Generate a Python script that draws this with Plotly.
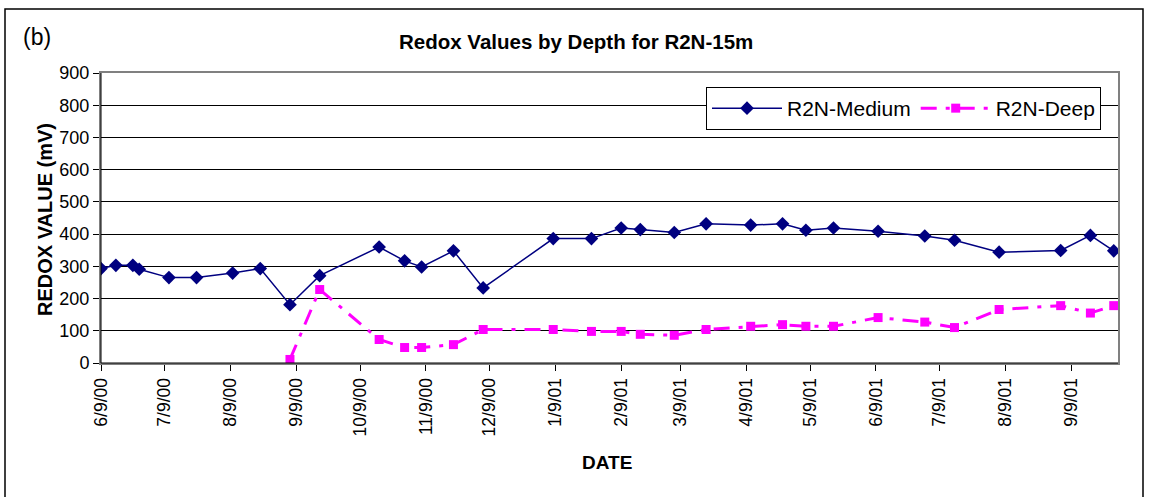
import plotly.graph_objects as go

medium_dates = ["2000-06-09", "2000-06-16", "2000-06-24", "2000-06-27", "2000-07-11", "2000-07-24",
                "2000-08-10", "2000-08-23", "2000-09-06", "2000-09-20", "2000-10-18", "2000-10-30",
                "2000-11-07", "2000-11-22", "2000-12-06", "2001-01-08", "2001-01-26", "2001-02-09",
                "2001-02-18", "2001-03-06", "2001-03-21", "2001-04-11", "2001-04-26", "2001-05-07",
                "2001-05-20", "2001-06-10", "2001-07-02", "2001-07-16", "2001-08-06", "2001-09-04",
                "2001-09-18", "2001-09-29"]
medium_values = [293, 303, 303, 291, 265, 265, 279, 293, 181, 271, 360, 317, 298, 348, 233, 386,
                 386, 419, 414, 405, 432, 428, 432, 412, 419, 409, 394, 381, 344, 349, 396, 348]

deep_dates = medium_dates[8:]
deep_values = [11, 228, 73, 48, 48, 57, 104, 104, 98, 98, 89, 86, 104, 114, 119, 114, 114, 141,
               127, 110, 166, 178, 155, 178]

tick_dates = ["2000-06-09", "2000-07-09", "2000-08-09", "2000-09-09", "2000-10-09", "2000-11-09",
              "2000-12-09", "2001-01-09", "2001-02-09", "2001-03-09", "2001-04-09", "2001-05-09",
              "2001-06-09", "2001-07-09", "2001-08-09", "2001-09-09"]
tick_labels = ["6/9/00", "7/9/00", "8/9/00", "9/9/00", "10/9/00", "11/9/00", "12/9/00", "1/9/01",
               "2/9/01", "3/9/01", "4/9/01", "5/9/01", "6/9/01", "7/9/01", "8/9/01", "9/9/01"]
y_ticks = [0, 100, 200, 300, 400, 500, 600, 700, 800, 900]

FONT = "Liberation Sans, Arial, sans-serif"

fig = go.Figure()
fig.add_trace(go.Scatter(
    x=medium_dates, y=medium_values, name="R2N-Medium", mode="lines+markers",
    line=dict(color="#000080", width=1.5),
    marker=dict(symbol="diamond", size=10.5, color="#000080"),
))
fig.add_trace(go.Scatter(
    x=deep_dates, y=deep_values, name="R2N-Deep", mode="lines+markers",
    line=dict(color="#FF00FF", width=3, dash="16px,9px,4px,9px"),
    marker=dict(symbol="square", size=9, color="#FF00FF"),
))

W, H = 1149, 497
L, R, T, B = 101, 1118, 73, 363
pw, ph = R - L, B - T


def px(x):
    return (x - L) / pw


def py(y):
    return (B - y) / ph


fig.update_layout(
    width=W, height=H,
    margin=dict(l=L, r=W - R, t=T, b=H - B),
    paper_bgcolor="white", plot_bgcolor="white",
    font=dict(family=FONT, size=16, color="black"),
    showlegend=True,
    legend=dict(
        orientation="h", x=px(706), y=py(87), xanchor="left", yanchor="top",
        bgcolor="white", bordercolor="black", borderwidth=1,
        font=dict(size=21, family=FONT), itemwidth=70, tracegroupgap=0,
    ),
    xaxis=dict(
        type="date", range=["2000-06-09", "2001-10-01"],
        tickvals=tick_dates, ticktext=tick_labels, tickangle=-90,
        ticks="outside", ticklen=6, tickcolor="black", tickwidth=1,
        showgrid=False, showline=True, linecolor="#808080", linewidth=2, mirror=True,
        tickfont=dict(size=17.5, family=FONT), zeroline=False,
    ),
    yaxis=dict(
        range=[0, 900], tickvals=y_ticks,
        ticks="outside", ticklen=6, tickcolor="black", tickwidth=1,
        showgrid=True, gridcolor="black", gridwidth=1,
        showline=True, linecolor="#808080", linewidth=2, mirror=True,
        tickfont=dict(size=18, family=FONT), zeroline=False,
    ),
    shapes=[
        dict(type="rect", xref="paper", yref="paper",
             x0=px(5), x1=px(1143), y0=py(505), y1=py(9),
             line=dict(color="black", width=1.5)),
        dict(type="line", xref="paper", yref="paper",
             x0=0, x1=0, y0=0, y1=1, line=dict(color="black", width=1)),
        dict(type="line", xref="paper", yref="paper",
             x0=0, x1=1, y0=0, y1=0, line=dict(color="black", width=1)),
    ],
    annotations=[
        dict(text="(b)", xref="paper", yref="paper", x=px(21), y=py(37),
             xanchor="left", yanchor="middle", showarrow=False,
             font=dict(size=23, family=FONT)),
        dict(text="<b>Redox Values by Depth for R2N-15m</b>", xref="paper", yref="paper",
             x=px(576), y=py(41), xanchor="center", yanchor="middle", showarrow=False,
             font=dict(size=20.5, family=FONT)),
        dict(text="<b>REDOX VALUE (mV)</b>", xref="paper", yref="paper",
             x=px(45), y=py(220), xanchor="center", yanchor="middle", showarrow=False,
             textangle=-90, font=dict(size=20, family=FONT)),
        dict(text="<b>DATE</b>", xref="paper", yref="paper",
             x=px(607), y=py(462), xanchor="center", yanchor="middle", showarrow=False,
             font=dict(size=19, family=FONT)),
    ],
)

fig.write_html("out.html", config={"displayModeBar": False},
               post_script="document.body.style.margin='0';document.body.style.overflow='hidden';")
